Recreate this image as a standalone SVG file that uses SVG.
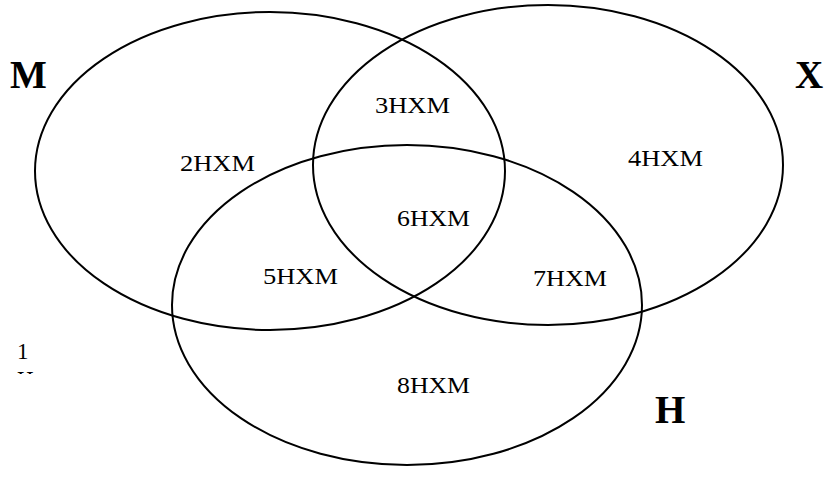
<svg xmlns="http://www.w3.org/2000/svg" width="826" height="496" viewBox="0 0 826 496">
<style>
.e{fill:none;stroke:#000;stroke-width:2}
.t{font-family:"Liberation Serif",serif;font-size:23px;fill:#000}
.b{font-family:"Liberation Serif",serif;font-size:39px;font-weight:bold;fill:#000}
</style>
<defs><clipPath id="c"><rect x="0" y="360" width="80" height="14"/></clipPath></defs>
<rect width="826" height="496" fill="#fff"/>
<g id="M"><ellipse class="e" cx="270" cy="171" rx="235" ry="159"/><text class="b" x="10" y="88">М</text></g>
<g id="X"><ellipse class="e" cx="548" cy="165" rx="235" ry="160"/><text class="b" x="795" y="88">Х</text></g>
<g id="H"><ellipse class="e" cx="407" cy="305" rx="235" ry="160"/><text class="b" x="655" y="423">Н</text></g>
<g id="labels">
<text class="t" x="180" y="171" textLength="75" lengthAdjust="spacingAndGlyphs">2НХМ</text>
<text class="t" x="375" y="113" textLength="75" lengthAdjust="spacingAndGlyphs">3НХМ</text>
<text class="t" x="628" y="166" textLength="75" lengthAdjust="spacingAndGlyphs">4НХМ</text>
<text class="t" x="263" y="284" textLength="75" lengthAdjust="spacingAndGlyphs">5НХМ</text>
<text class="t" x="397" y="226" textLength="73" lengthAdjust="spacingAndGlyphs">6НХМ</text>
<text class="t" x="533" y="286" textLength="74" lengthAdjust="spacingAndGlyphs">7НХМ</text>
<text class="t" x="397" y="393" textLength="73" lengthAdjust="spacingAndGlyphs">8НХМ</text>
<text class="t" x="17" y="359">1</text>
<text class="t" x="17" y="387" clip-path="url(#c)">Н</text>
</g>
<g id="connectors"/>
</svg>
